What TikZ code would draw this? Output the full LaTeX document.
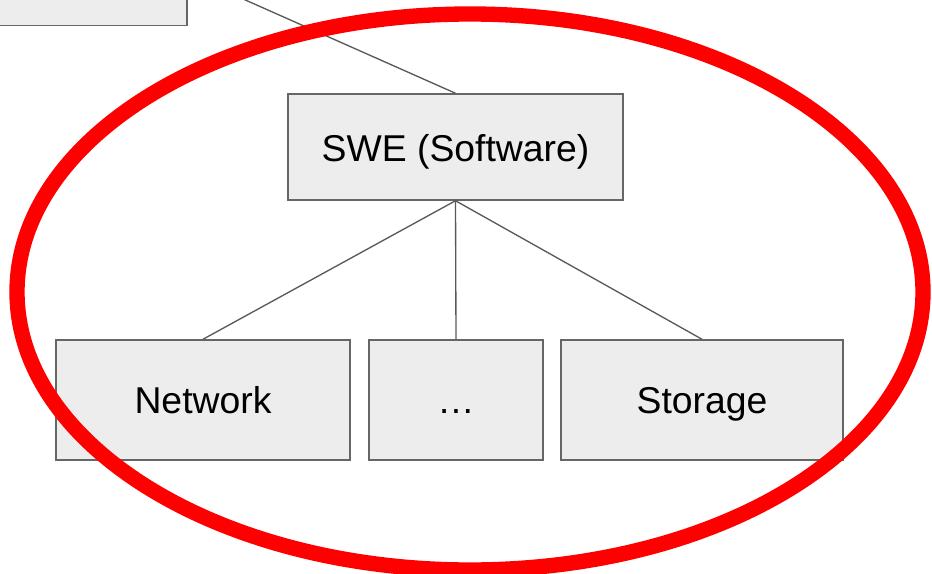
\documentclass[tikz,border=0pt]{standalone}
\usepackage{fontspec}
\setmainfont{Liberation Sans}
\begin{document}
\begin{tikzpicture}[x=0.75pt,y=-0.75pt,
  boxnode/.style={draw=black!60,fill=black!7,line width=1.1pt,inner sep=0pt,
    font=\fontsize{28pt}{34pt}\selectfont,text=black,text height=20pt,text depth=0pt},
  link/.style={draw=black!65,line width=1pt},
  ring/.style={draw=red,line width=11.5pt}]
\useasboundingbox (0,0) rectangle (932,574);
\clip (0,0) rectangle (932,574);
\node[boxnode,minimum width=297pt,minimum height=56pt] (parent) at (-11,-12) {};
\coordinate (top) at (200.3,-20);
\node[boxnode,minimum width=251.25pt,minimum height=79.5pt,text height=22pt] (swe) at (455.5,147) {SWE (Software)};
\node[boxnode,minimum width=220.5pt,minimum height=90pt] (net) at (203,400) {Network};
\node[boxnode,minimum width=130.5pt,minimum height=90pt] (dots) at (456,400) {…};
\node[boxnode,minimum width=211.5pt,minimum height=90pt] (sto) at (702,400) {Storage};
\draw[link] (top) -- (swe.north);
\draw[link] (swe.south) -- (net.north);
\draw[link] (swe.south) -- (dots.north);
\draw[link] (swe.south) -- (sto.north);
\draw[ring] (470,292) ellipse [x radius=453, y radius=278];
\end{tikzpicture}
\end{document}
